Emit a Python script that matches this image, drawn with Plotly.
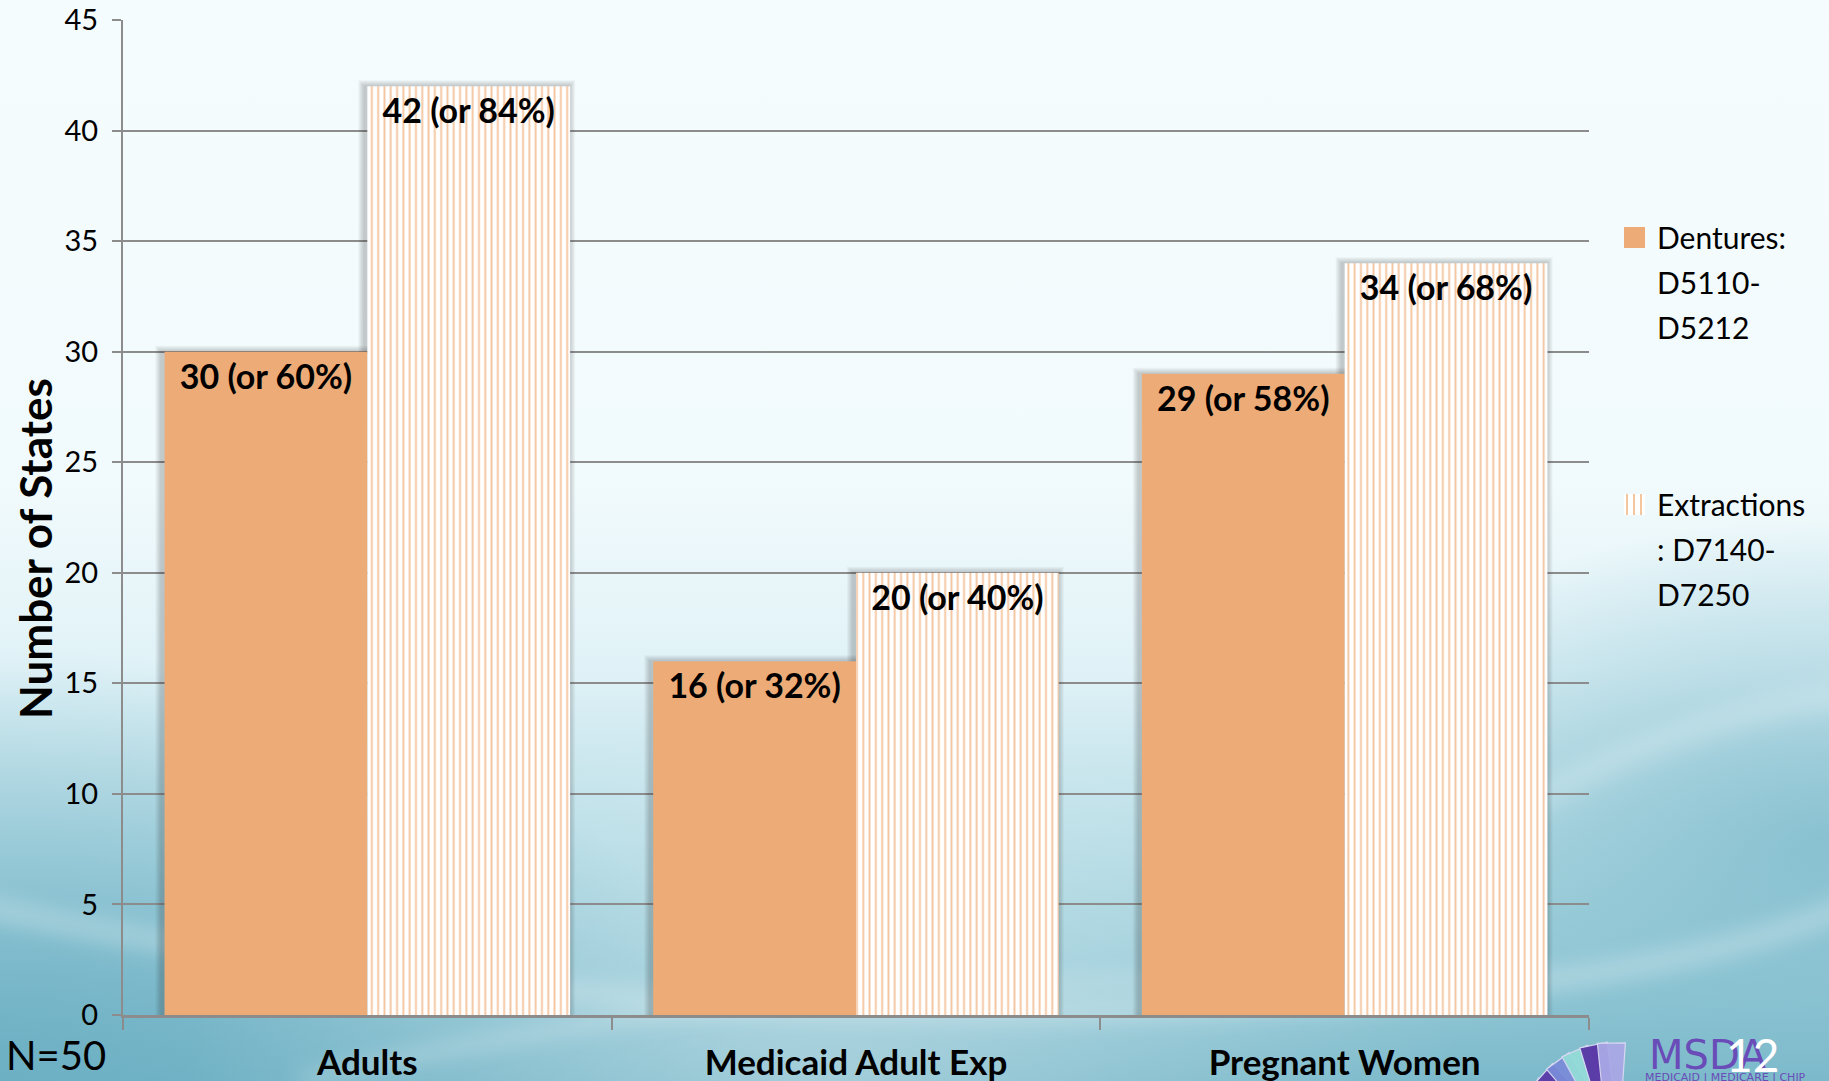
import base64
import math
import plotly.graph_objects as go

# ---- data -------------------------------------------------------------
categories = ["Adults", "Medicaid Adult Exp", "Pregnant Women"]
dentures = [30, 16, 29]
extractions = [42, 20, 34]
total_states = 50
dentures_lines = ["Dentures:", "D5110-", "D5212"]
extractions_lines = ["Extractions", ": D7140-", "D7250"]
y_ticks = [0, 5, 10, 15, 20, 25, 30, 35, 40, 45]

# ---- styling ----------------------------------------------------------
W, H = 1829, 1081
M_L, M_R, M_T, M_B = 123, 240, 20, 66
PW, PH = W - M_L - M_R, H - M_T - M_B
Y_MAX = 45
BARGAP = 0.17
FONT = "Lato"
ORANGE = "#EDAC77"
STRIPE = "#F4C6A0"
GRID = "#8C8C8C"


def px(x):
    """container pixel x -> paper coordinate"""
    return (x - M_L) / PW


def py(y):
    """container pixel y (from top) -> paper coordinate"""
    return (H - M_B - y) / PH


def labels(vals):
    return [f"{v} (or {round(v * 100 / total_states)}%)" for v in vals]


# ---- slide background: soft sky gradient with light swooshes + logo fan --
def blade(pivot, ang, length, w0, w1):
    a = math.radians(ang)
    ux, uy = math.cos(a), -math.sin(a)
    nx, ny = -uy, ux
    x0, y0 = pivot
    pts = [
        (x0 + nx * w0, y0 + ny * w0),
        (x0 + ux * length + nx * w1, y0 + uy * length + ny * w1),
        (x0 + ux * length - nx * w1, y0 + uy * length - ny * w1),
        (x0 - nx * w0, y0 - ny * w0),
    ]
    return " ".join(f"{x:.1f},{y:.1f}" for x, y in pts)


fan_angles = [150, 138, 126, 114, 102, 91]
fan_colors = ["#86DAD6", "#5A3AA8", "#7A8BD8", "#94DCD8", "#5935A6", "#A9A8E6"]
fan = "".join(
    f'<polygon points="{blade((1613, 1137), a, 94, 6, 14)}" fill="{c}" '
    f'stroke="#DADAF2" stroke-width="1.2" opacity="0.95"/>'
    for a, c in zip(fan_angles, fan_colors)
)

bg_svg = f"""<svg xmlns="http://www.w3.org/2000/svg" width="{W}" height="{H}" viewBox="0 0 {W} {H}">
<defs>
<linearGradient id="sky" x1="0" y1="0" x2="0" y2="1">
<stop offset="0" stop-color="#F5FCFE"/>
<stop offset="0.45" stop-color="#F1FAFC"/>
<stop offset="0.62" stop-color="#E0F2F7"/>
<stop offset="0.78" stop-color="#B8DDE6"/>
<stop offset="0.9" stop-color="#98CBD8"/>
<stop offset="1" stop-color="#7BB9CA"/>
</linearGradient>
<radialGradient id="rightTeal" cx="1" cy="0.78" r="0.3">
<stop offset="0" stop-color="#7DBACB" stop-opacity="0.8"/>
<stop offset="1" stop-color="#7DBACB" stop-opacity="0"/>
</radialGradient>
<radialGradient id="leftTeal" cx="0" cy="1" r="0.4">
<stop offset="0" stop-color="#6AAEC2" stop-opacity="0.85"/>
<stop offset="1" stop-color="#6AAEC2" stop-opacity="0"/>
</radialGradient>
<radialGradient id="glow" cx="0.45" cy="1.0" r="0.35">
<stop offset="0" stop-color="#FFFFFF" stop-opacity="0.3"/>
<stop offset="1" stop-color="#FFFFFF" stop-opacity="0"/>
</radialGradient>
<filter id="soft"><feGaussianBlur stdDeviation="9"/></filter>
</defs>
<rect width="{W}" height="{H}" fill="url(#sky)"/>
<rect width="{W}" height="{H}" fill="url(#rightTeal)"/>
<rect width="{W}" height="{H}" fill="url(#leftTeal)"/>
<rect width="{W}" height="{H}" fill="url(#glow)"/>
<g filter="url(#soft)" fill="none" stroke="#FFFFFF">
<path d="M -50 900 Q 500 1020 1100 1010 T 1900 880" stroke-width="26" stroke-opacity="0.22"/>
<path d="M 300 1081 Q 900 940 1500 1000" stroke-width="18" stroke-opacity="0.18"/>
<path d="M 1500 820 Q 1700 700 1900 690" stroke-width="30" stroke-opacity="0.18"/>
</g>
{fan}
</svg>"""
bg_uri = "data:image/svg+xml;base64," + base64.b64encode(bg_svg.encode()).decode()

# ---- traces -----------------------------------------------------------
label_font = dict(family=FONT, size=34, color="black", weight="bold")

fig = go.Figure()
fig.add_trace(go.Bar(
    name=" ".join(dentures_lines),
    x=categories,
    y=dentures,
    text=labels(dentures),
    textposition="inside",
    insidetextanchor="end",
    constraintext="none",
    textfont=label_font,
    marker=dict(color=ORANGE, line=dict(width=0)),
))
fig.add_trace(go.Bar(
    name=" ".join(extractions_lines),
    x=categories,
    y=extractions,
    text=labels(extractions),
    textposition="inside",
    insidetextanchor="end",
    constraintext="none",
    textfont=label_font,
    marker=dict(
        color="white",
        line=dict(width=0),
        pattern=dict(shape="|", fgcolor=STRIPE, bgcolor="white",
                     size=6.3, solidity=0.3, fillmode="replace"),
    ),
))

# ---- soft drop shadow behind every bar (data -> axis coordinates) -------
shapes = []
x_per_px = 1.0 / (PW / len(categories))
y_per_px = Y_MAX / PH
half = (1 - BARGAP) / 2
for i in range(len(categories)):
    for j, vals in enumerate([dentures, extractions]):
        x0 = i - half + j * half
        x1 = x0 + half
        top = vals[i]
        for k in range(1, 7):
            dx = (k + 1) * x_per_px
            dy = k * y_per_px
            shapes.append(dict(
                type="rect", xref="x", yref="y", layer="between",
                x0=x0 - dx - 2 * x_per_px, x1=x1 + dx - 2 * x_per_px,
                y0=0, y1=top + dy,
                fillcolor="rgba(40,40,40,0.045)", line=dict(width=0),
            ))

# ---- legend drawn beside the plot ---------------------------------------
LEG_X = 1655
LEG_LINE = 45
legend_items = [(dentures_lines, 237), (extractions_lines, 504)]
legend_annotations = []
for lines, y0 in legend_items:
    for n, line in enumerate(lines):
        legend_annotations.append(dict(
            text=line, x=px(LEG_X), y=py(y0 + n * LEG_LINE),
            xanchor="left", yanchor="middle",
            font=dict(family=FONT, size=30, color="black"),
        ))
# filled swatch
shapes.append(dict(type="rect", xref="paper", yref="paper",
                   x0=px(1624), x1=px(1645), y0=py(248), y1=py(227),
                   fillcolor=ORANGE, line=dict(width=0)))
# striped swatch
shapes.append(dict(type="rect", xref="paper", yref="paper",
                   x0=px(1624), x1=px(1645), y0=py(515), y1=py(494),
                   fillcolor="white", line=dict(width=0)))
for sx in (1627, 1634, 1641):
    shapes.append(dict(type="line", xref="paper", yref="paper",
                       x0=px(sx), x1=px(sx), y0=py(515), y1=py(494),
                       line=dict(color=STRIPE, width=2)))

# ---- layout -----------------------------------------------------------
fig.update_layout(
    width=W,
    height=H,
    margin=dict(l=M_L, r=M_R, t=M_T, b=M_B, autoexpand=False),
    paper_bgcolor="rgba(0,0,0,0)",
    plot_bgcolor="rgba(0,0,0,0)",
    barmode="group",
    bargap=BARGAP,
    bargroupgap=0,
    font=dict(family=FONT, color="black"),
    showlegend=False,
    shapes=shapes,
    images=[dict(
        source=bg_uri,
        xref="paper", yref="paper",
        x=px(0), y=py(0),
        sizex=W / PW, sizey=H / PH,
        xanchor="left", yanchor="top",
        sizing="stretch",
        layer="below",
    )],
)

fig.update_xaxes(
    type="category",
    range=[-0.5, len(categories) - 0.5],
    showline=True,
    linecolor=GRID,
    linewidth=3,
    ticks="outside",
    tickson="boundaries",
    ticklen=12,
    tickwidth=2,
    tickcolor=GRID,
    ticklabelstandoff=15,
    tickfont=dict(family=FONT, size=35, color="black", weight="bold"),
    showgrid=False,
)
fig.update_yaxes(
    range=[0, Y_MAX],
    tickvals=y_ticks,
    showline=True,
    linecolor=GRID,
    linewidth=2,
    ticks="outside",
    ticklen=9,
    tickwidth=2,
    tickcolor=GRID,
    ticklabelstandoff=8,
    tickfont=dict(family=FONT, size=29, color="black"),
    showgrid=True,
    gridcolor=GRID,
    gridwidth=2,
    zeroline=False,
)

annotations = [
    dict(text="<b>Number of States</b>", x=px(35), y=py(549), textangle=-90,
         font=dict(family=FONT, size=44, color="black")),
    dict(text=f"N={total_states}", x=px(56), y=py(1055),
         font=dict(family=FONT, size=40, color="black")),
    dict(text="MSDA", x=px(1708), y=py(1055),
         font=dict(family="DejaVu Sans", size=40, color="#6A4CB8")),
    dict(text="MEDICAID | MEDICARE | CHIP", x=px(1725), y=py(1077),
         font=dict(family="DejaVu Sans", size=11, color="#6A4CB8")),
    dict(text="12", x=px(1753), y=py(1054),
         font=dict(family=FONT, size=46, color="white")),
]
for a in annotations:
    a.setdefault("xanchor", "center")
    a.setdefault("yanchor", "middle")
annotations += legend_annotations
for a in annotations:
    a.update(xref="paper", yref="paper", showarrow=False)
fig.update_layout(annotations=annotations)

fig.write_html("out.html")
